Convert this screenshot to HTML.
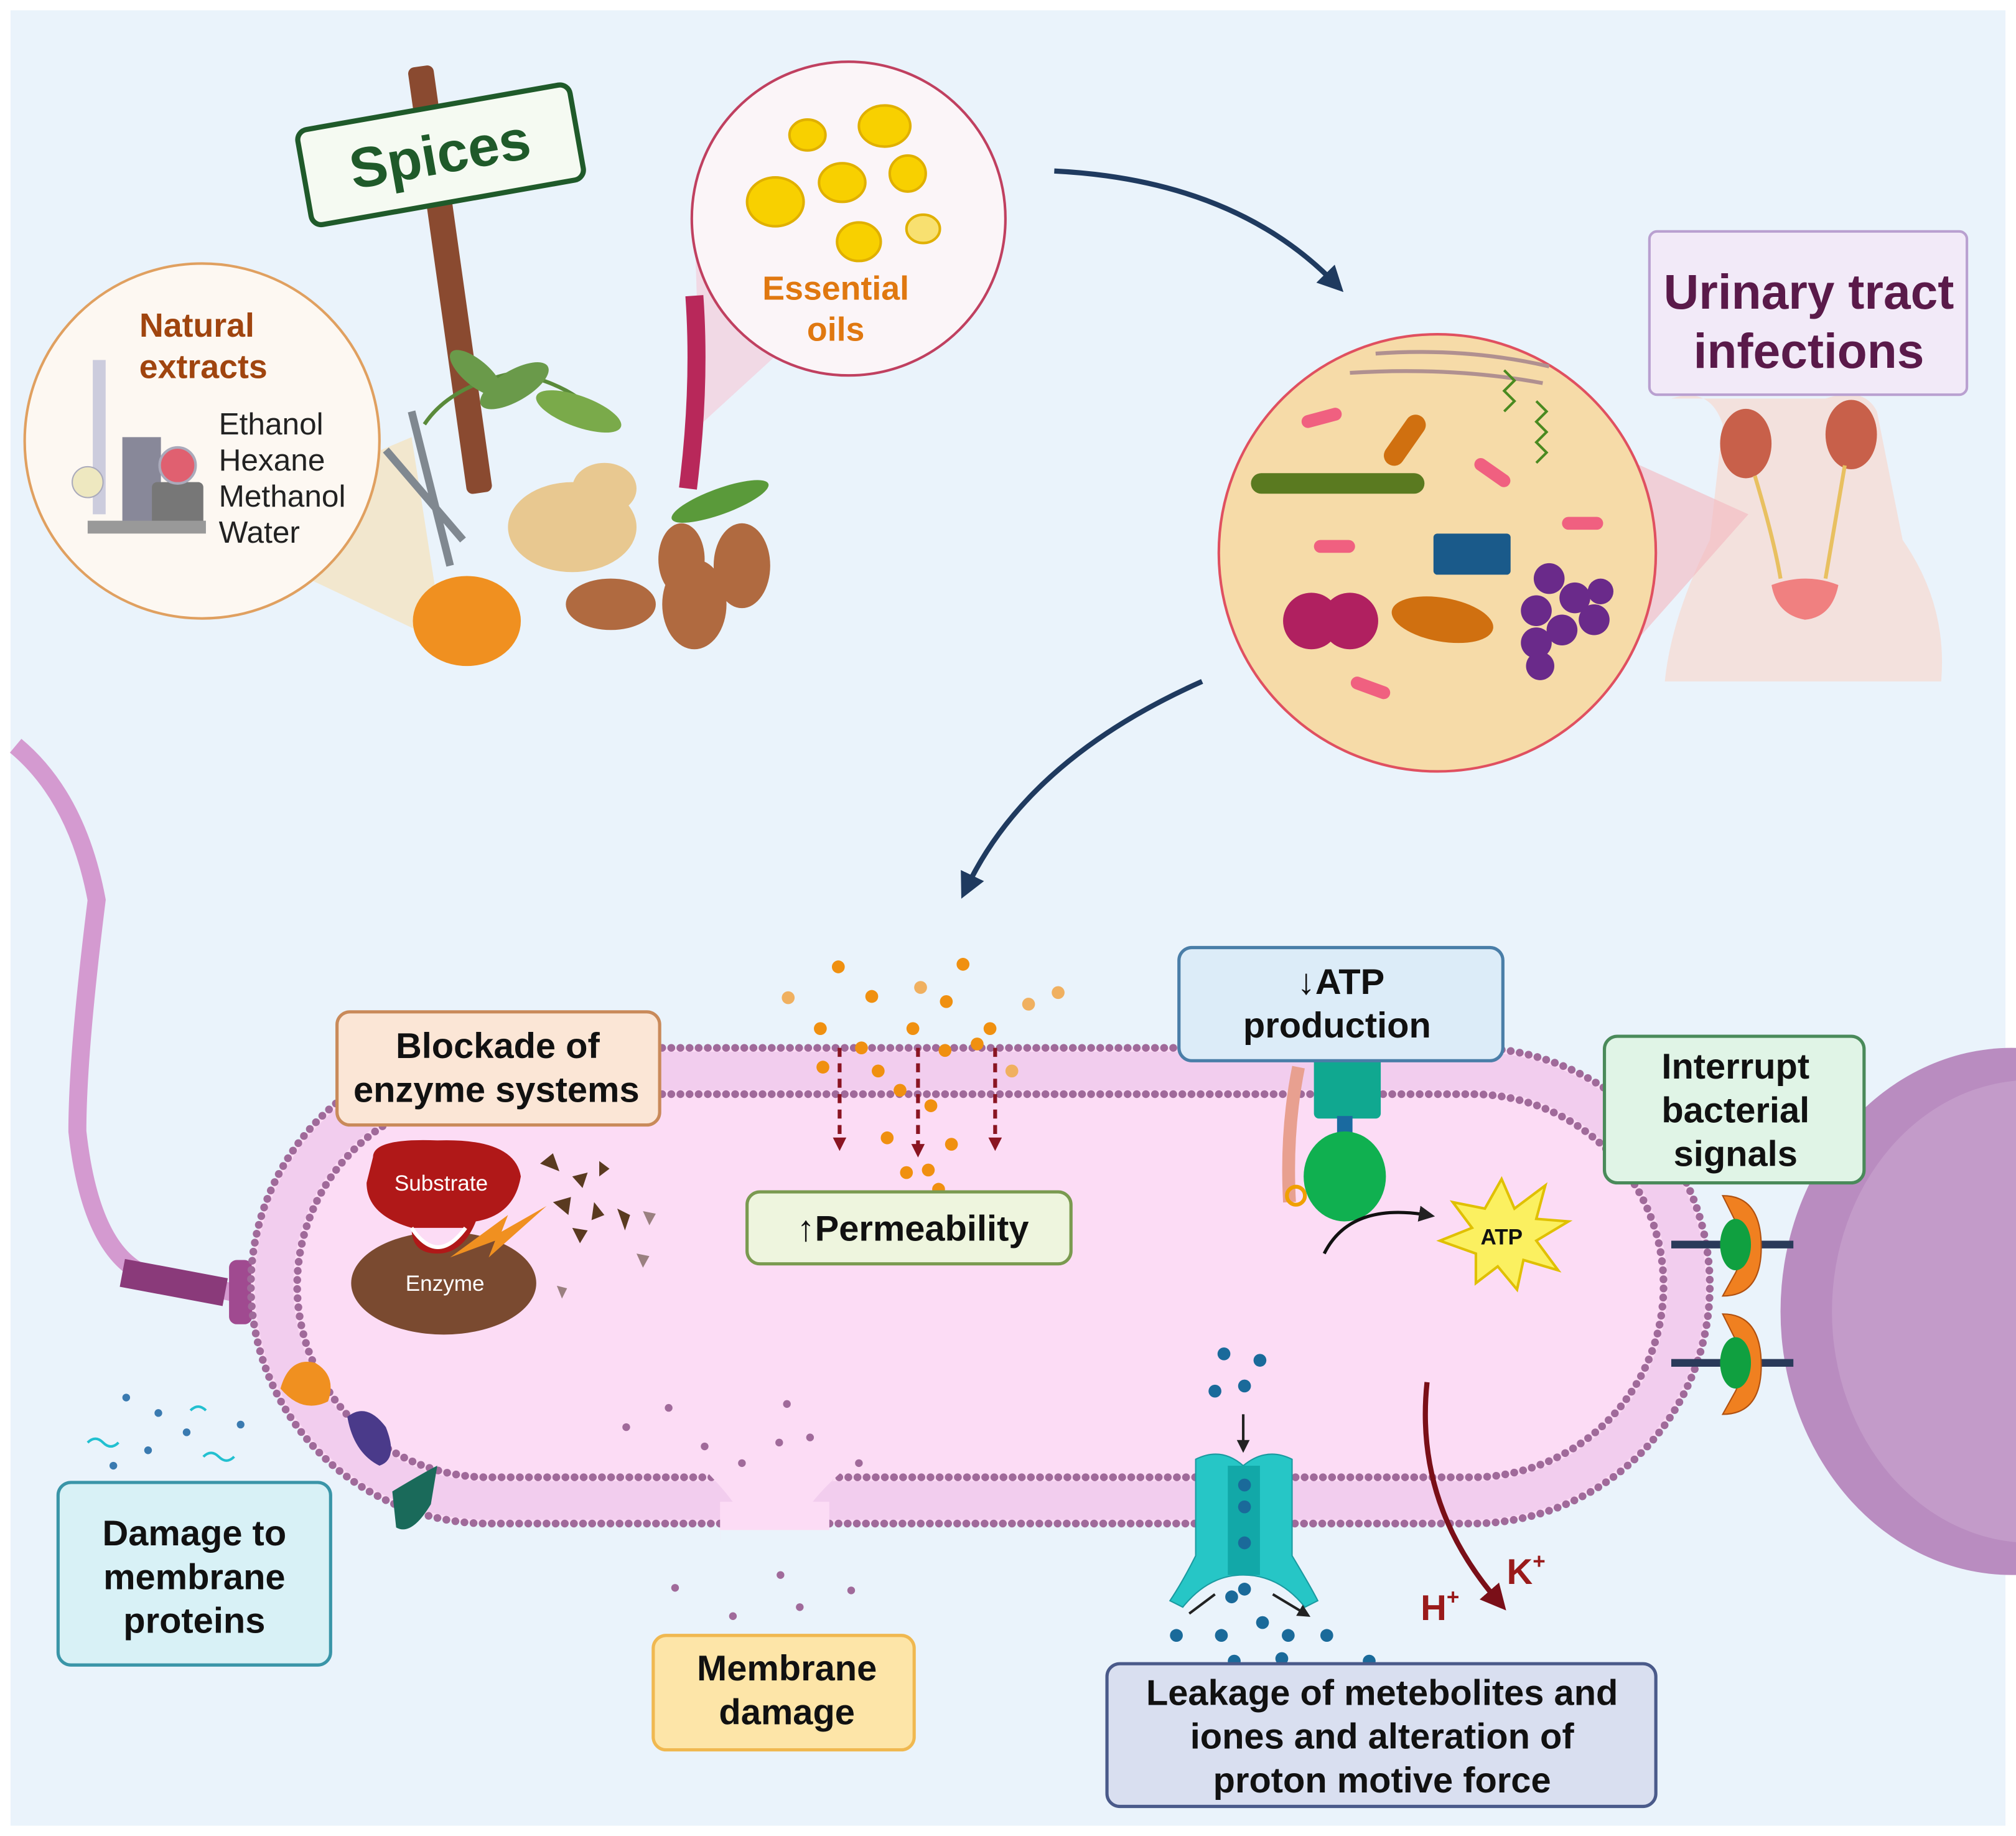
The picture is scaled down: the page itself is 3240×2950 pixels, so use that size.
<!DOCTYPE html>
<html><head><meta charset="utf-8"><style>
html,body{margin:0;padding:0;background:#fff}
svg{display:block}
text{font-family:"Liberation Sans",sans-serif}
</style></head><body>
<svg width="3240" height="2950" viewBox="0 0 1568 1428" xmlns="http://www.w3.org/2000/svg">
<defs>
<marker id="ah" viewBox="0 0 10 10" refX="5" refY="5" markerWidth="5" markerHeight="5" orient="auto"><path d="M0,0 L10,5 L0,10 z" fill="#1f3a5f"/></marker>
<marker id="ar" viewBox="0 0 10 10" refX="5" refY="5" markerWidth="5" markerHeight="5" orient="auto"><path d="M0,0 L10,5 L0,10 z" fill="#7a0f18"/></marker>
<marker id="ab" viewBox="0 0 10 10" refX="5" refY="5" markerWidth="5" markerHeight="5" orient="auto"><path d="M0,0 L10,5 L0,10 z" fill="#222"/></marker>
<marker id="ad" viewBox="0 0 10 10" refX="5" refY="5" markerWidth="3.5" markerHeight="3.5" orient="auto"><path d="M0,0 L10,5 L0,10 z" fill="#8a1522"/></marker>
</defs>
<rect x="0" y="0" width="1568" height="1428" fill="#fff"/>
<rect x="8" y="8" width="1552" height="1412" fill="#eaf3fb"/>

<path d="M1300,310 Q1330,300 1340,330 L1330,420 Q1300,480 1295,530 L1510,530 Q1515,470 1480,420 L1460,320 Q1450,300 1420,310 Z" fill="#f5dcd6" opacity="0.8"/>
<ellipse cx="1358" cy="345" rx="20" ry="27" fill="#c8604a"/>
<ellipse cx="1440" cy="338" rx="20" ry="27" fill="#c8604a"/>
<path d="M1365,370 Q1380,420 1385,450 M1435,362 Q1425,420 1420,450" stroke="#e8c060" stroke-width="3" fill="none"/>
<path d="M1378,455 Q1405,445 1430,455 Q1425,480 1404,482 Q1382,478 1378,455 Z" fill="#f08080"/>
<polygon points="1205,330 1360,400 1205,575" fill="#f4b8c0" opacity="0.6"/>

<circle cx="1118" cy="430" r="170" fill="#f6dba8" stroke="#e05060" stroke-width="2"/>
<path d="M1070,275 Q1140,270 1205,285" stroke="#b09090" stroke-width="3" fill="none"/>
<path d="M1050,290 Q1130,285 1200,298" stroke="#b09090" stroke-width="3" fill="none"/>
<rect x="973" y="368" width="135" height="16" rx="8" fill="#5a7a20"/>
<rect x="1085" y="320" width="16" height="45" rx="8" fill="#d07010" transform="rotate(35 1093 342)"/>
<rect x="1115" y="415" width="60" height="32" rx="3" fill="#1a5a8a"/>
<circle cx="1020" cy="483" r="22" fill="#b02060"/><circle cx="1050" cy="483" r="22" fill="#b02060"/>
<ellipse cx="1122" cy="482" rx="40" ry="17" fill="#d07010" transform="rotate(10 1122 482)"/>
<g fill="#6a2a8a"><circle cx="1205" cy="450" r="12"/><circle cx="1225" cy="465" r="12"/><circle cx="1195" cy="475" r="12"/><circle cx="1215" cy="490" r="12"/><circle cx="1240" cy="482" r="12"/><circle cx="1195" cy="500" r="12"/><circle cx="1198" cy="518" r="11"/><circle cx="1245" cy="460" r="10"/></g>
<g fill="#f06080"><rect x="1012" y="320" width="32" height="10" rx="5" transform="rotate(-15 1028 325)"/><rect x="1145" y="362" width="32" height="10" rx="5" transform="rotate(35 1160 367)"/><rect x="1022" y="420" width="32" height="10" rx="5"/><rect x="1215" y="402" width="32" height="10" rx="5"/><rect x="1050" y="530" width="32" height="10" rx="5" transform="rotate(20 1066 535)"/></g>
<path d="M1170,320 l8,-8 l-8,-8 l8,-8 l-8,-8 M1195,360 l8,-8 l-8,-8 l8,-8 l-8,-8 l8,-8 l-8,-8" stroke="#4a8a20" stroke-width="2" fill="none"/>

<rect x="1283" y="180" width="247" height="127" rx="6" fill="#f2eaf8" stroke="#b9a0d0" stroke-width="2"/>
<text x="1407" y="240" font-size="38" font-weight="bold" fill="#5a1a4a" text-anchor="middle">Urinary tract</text>
<text x="1407" y="286" font-size="38" font-weight="bold" fill="#5a1a4a" text-anchor="middle">infections</text>

<path d="M820,133 Q960,140 1038,220" stroke="#1f3a5f" stroke-width="4" fill="none" marker-end="url(#ah)"/>
<path d="M935,530 Q800,590 752,690" stroke="#1f3a5f" stroke-width="4" fill="none" marker-end="url(#ah)"/>

<polygon points="155,410 345,500 320,340" fill="#f6e0b0" opacity="0.6"/>
<polygon points="540,170 720,170 545,330" fill="#f8c0d0" opacity="0.5"/>
<rect x="340" y="50" width="20" height="335" rx="5" fill="#8a4a30" transform="rotate(-8 350 218)"/>
<g transform="rotate(-10 342 120)"><rect x="235" y="83" width="215" height="75" rx="8" fill="#f5faf2" stroke="#1f5a2a" stroke-width="4"/>
<text x="342" y="135" font-size="44" font-weight="bold" fill="#1f5a2a" text-anchor="middle">Spices</text></g>
<path d="M330,330 Q350,300 400,290 Q450,300 470,330" stroke="#5a8a3a" stroke-width="3" fill="none"/>
<ellipse cx="400" cy="300" rx="30" ry="12" fill="#6a9a4a" transform="rotate(-30 400 300)"/>
<ellipse cx="450" cy="320" rx="35" ry="12" fill="#7aaa4a" transform="rotate(20 450 320)"/>
<ellipse cx="370" cy="290" rx="25" ry="10" fill="#6a9a4a" transform="rotate(40 370 290)"/>
<path d="M320,320 L350,440 M300,350 L360,420" stroke="#808890" stroke-width="6" fill="none"/>
<ellipse cx="445" cy="410" rx="50" ry="35" fill="#e8c890"/>
<ellipse cx="470" cy="380" rx="25" ry="20" fill="#e8c890"/>
<path d="M540,230 Q545,300 535,380" stroke="#b8285a" stroke-width="14" fill="none"/>
<ellipse cx="560" cy="390" rx="40" ry="10" fill="#5a9a3a" transform="rotate(-20 560 390)"/>
<ellipse cx="363" cy="483" rx="42" ry="35" fill="#f09020"/>
<ellipse cx="475" cy="470" rx="35" ry="20" fill="#b06a40"/>
<ellipse cx="540" cy="470" rx="25" ry="35" fill="#b06a40"/>
<ellipse cx="577" cy="440" rx="22" ry="33" fill="#b06a40"/>
<ellipse cx="530" cy="435" rx="18" ry="28" fill="#b06a40"/>

<circle cx="157" cy="343" r="138" fill="#fdf8f2" stroke="#e0a060" stroke-width="2"/>
<text x="153" y="262" font-size="26" font-weight="bold" fill="#a0450f" text-anchor="middle">Natural</text>
<text x="158" y="294" font-size="26" font-weight="bold" fill="#a0450f" text-anchor="middle">extracts</text>
<g font-size="24" fill="#222"><text x="170" y="338">Ethanol</text><text x="170" y="366">Hexane</text><text x="170" y="394">Methanol</text><text x="170" y="422">Water</text></g>
<rect x="72" y="280" width="10" height="120" fill="#ccd"/>
<rect x="95" y="340" width="30" height="70" fill="#889"/>
<rect x="118" y="375" width="40" height="35" rx="4" fill="#777"/>
<circle cx="138" cy="362" r="14" fill="#e06070" stroke="#aab" stroke-width="2"/>
<rect x="68" y="405" width="92" height="10" fill="#999"/>
<circle cx="68" cy="375" r="12" fill="#eee8c0" stroke="#aab"/>

<circle cx="660" cy="170" r="122" fill="#fbf5f8" stroke="#c04060" stroke-width="2"/>
<g fill="#f8d000" stroke="#e0b000" stroke-width="2"><ellipse cx="628" cy="105" rx="14" ry="12"/><ellipse cx="688" cy="98" rx="20" ry="16"/><ellipse cx="655" cy="142" rx="18" ry="15"/><ellipse cx="706" cy="135" rx="14" ry="14"/><ellipse cx="603" cy="157" rx="22" ry="19"/><ellipse cx="668" cy="188" rx="17" ry="15"/><ellipse cx="718" cy="178" rx="13" ry="11" fill="#f8e070"/></g>
<text x="650" y="233" font-size="26" font-weight="bold" fill="#e07810" text-anchor="middle">Essential</text>
<text x="650" y="265" font-size="26" font-weight="bold" fill="#e07810" text-anchor="middle">oils</text>

<ellipse cx="1565" cy="1020" rx="180" ry="205" fill="#b98cc0"/>
<ellipse cx="1580" cy="1020" rx="155" ry="180" fill="#c39bc9"/>

<path d="M12,580 Q60,620 75,700 Q60,820 60,880 Q70,970 110,990 L180,1005" stroke="#d49ad0" stroke-width="14" fill="none"/>
<path d="M95,990 L175,1005" stroke="#8a3a7a" stroke-width="22" fill="none"/>
<rect x="178" y="980" width="18" height="50" rx="6" fill="#a04a90"/>

<rect x="195" y="815" width="1135" height="370" rx="185" fill="#fcdcf5"/>
<rect x="213" y="833" width="1099" height="334" rx="167" fill="none" stroke="#f2cdee" stroke-width="30"/>
<rect x="195" y="815" width="1135" height="370" rx="185" fill="none" stroke="#a06a9a" stroke-width="6" stroke-dasharray="0.1 7" stroke-linecap="round"/>
<rect x="231" y="851" width="1063" height="298" rx="149" fill="none" stroke="#a06a9a" stroke-width="6" stroke-dasharray="0.1 7" stroke-linecap="round"/>
<path d="M545,1140 Q580,1175 580,1190 L620,1190 Q625,1170 660,1140 Z" fill="#fcdcf5"/>
<rect x="560" y="1168" width="85" height="30" fill="#fcdcf5"/>
<path d="M560,1190 L650,1190 L650,1210 L560,1210Z" fill="#eaf3fb"/>
<g fill="#a06a9a"><circle cx="487" cy="1110" r="3"/><circle cx="520" cy="1095" r="3"/><circle cx="548" cy="1125" r="3"/><circle cx="577" cy="1138" r="3"/><circle cx="612" cy="1092" r="3"/><circle cx="606" cy="1122" r="3"/><circle cx="630" cy="1118" r="3"/><circle cx="668" cy="1138" r="3"/><circle cx="525" cy="1235" r="3"/><circle cx="570" cy="1257" r="3"/><circle cx="607" cy="1225" r="3"/><circle cx="622" cy="1250" r="3"/><circle cx="662" cy="1237" r="3"/></g>

<g fill="#f09010"><circle cx="652" cy="752" r="5"/><circle cx="749" cy="750" r="5"/><circle cx="678" cy="775" r="5"/><circle cx="736" cy="779" r="5"/><circle cx="710" cy="800" r="5"/><circle cx="638" cy="800" r="5"/><circle cx="770" cy="800" r="5"/><circle cx="735" cy="817" r="5"/><circle cx="640" cy="830" r="5"/><circle cx="683" cy="833" r="5"/><circle cx="700" cy="848" r="5"/><circle cx="724" cy="860" r="5"/><circle cx="690" cy="885" r="5"/><circle cx="740" cy="890" r="5"/><circle cx="705" cy="912" r="5"/><circle cx="722" cy="910" r="5"/><circle cx="730" cy="925" r="5"/><circle cx="670" cy="815" r="5"/><circle cx="760" cy="812" r="5"/></g>
<g fill="#f0b060"><circle cx="613" cy="776" r="5"/><circle cx="716" cy="768" r="5"/><circle cx="800" cy="781" r="5"/><circle cx="823" cy="772" r="5"/><circle cx="787" cy="833" r="5"/></g>
<g stroke="#8a1522" stroke-width="3" stroke-dasharray="7 5"><line x1="653" y1="815" x2="653" y2="890" marker-end="url(#ad)"/><line x1="714" y1="815" x2="714" y2="895" marker-end="url(#ad)"/><line x1="774" y1="815" x2="774" y2="890" marker-end="url(#ad)"/></g>

<ellipse cx="345" cy="998" rx="72" ry="40" fill="#7a4a30"/>
<path d="M290,900 Q290,885 340,887 Q400,885 405,915 Q400,945 370,950 Q360,975 340,975 Q320,975 320,955 Q285,945 285,920 Z" fill="#b01818"/>
<path d="M320,955 Q340,985 362,955" fill="#fcdcf5" stroke="#fff" stroke-width="3"/>
<polygon points="350,978 395,945 390,958 425,938 380,978 385,965" fill="#f09020"/>
<text x="343" y="926" font-size="17" fill="#fff" text-anchor="middle">Substrate</text>
<text x="346" y="1004" font-size="17" fill="#fff" text-anchor="middle">Enzyme</text>
<g fill="#5a3a20"><path d="M420,905 l10,-8 l5,14z"/><path d="M445,915 l12,-3 l-4,12z"/><path d="M430,935 l14,-4 l-2,14z"/><path d="M462,935 l8,10 l-10,4z"/><path d="M480,940 l10,5 l-4,12z"/><path d="M445,955 l12,2 l-6,10z"/><path d="M466,903 l8,6 l-8,6z"/></g>
<g fill="#9a8080"><path d="M500,942 l10,2 l-5,9z"/><path d="M495,975 l10,2 l-5,9z"/><path d="M433,1000 l8,2 l-4,8z"/></g>

<path d="M1010,830 Q1000,880 1003,935" stroke="#e8a090" stroke-width="10" fill="none"/>
<circle cx="1008" cy="930" r="7" fill="none" stroke="#f0a000" stroke-width="3"/>
<rect x="1022" y="812" width="52" height="58" rx="4" fill="#10a890"/>
<rect x="1040" y="868" width="12" height="42" fill="#1a6aa0"/>
<ellipse cx="1046" cy="915" rx="32" ry="35" fill="#10b050"/>
<path d="M1030,975 Q1050,935 1110,945" stroke="#111" stroke-width="2.5" fill="none" marker-end="url(#ab)"/>
<polygon points="1168,917 1178,940 1202,922 1195,948 1220,950 1195,965 1212,988 1185,980 1180,1003 1165,985 1148,998 1148,975 1120,965 1145,955 1130,935 1155,940" fill="#fbf060" stroke="#e0c000" stroke-width="2"/>
<text x="1168" y="968" font-size="17" font-weight="bold" fill="#111" text-anchor="middle">ATP</text>

<g><line x1="1300" y1="968" x2="1395" y2="968" stroke="#2a3a5a" stroke-width="6"/><path d="M1340,930 Q1370,930 1370,970 Q1370,1008 1340,1008 L1350,990 Q1360,970 1350,950 Z" fill="#f08020" stroke="#b05010"/><ellipse cx="1350" cy="968" rx="12" ry="20" fill="#10a040"/></g>
<g><line x1="1300" y1="1060" x2="1395" y2="1060" stroke="#2a3a5a" stroke-width="6"/><path d="M1340,1022 Q1370,1022 1370,1062 Q1370,1100 1340,1100 L1350,1082 Q1360,1062 1350,1042 Z" fill="#f08020" stroke="#b05010"/><ellipse cx="1350" cy="1060" rx="12" ry="20" fill="#10a040"/></g>

<g fill="#1a6a9a"><circle cx="952" cy="1053" r="5"/><circle cx="980" cy="1058" r="5"/><circle cx="945" cy="1082" r="5"/><circle cx="968" cy="1078" r="5"/></g>
<line x1="967" y1="1100" x2="967" y2="1125" stroke="#222" stroke-width="2" marker-end="url(#ab)"/>
<path d="M930,1135 Q950,1125 967,1140 Q985,1125 1005,1135 L1005,1210 Q1020,1235 1025,1245 L1015,1250 Q995,1225 967,1225 Q940,1225 920,1250 L910,1245 Q920,1230 930,1210 Z" fill="#26c6c6" stroke="#1a9aa0"/>
<rect x="955" y="1140" width="25" height="85" fill="#12a8a8"/>
<g fill="#1a6a9a"><circle cx="968" cy="1155" r="5"/><circle cx="968" cy="1172" r="5"/><circle cx="968" cy="1200" r="5"/><circle cx="958" cy="1242" r="5"/><circle cx="968" cy="1236" r="5"/><circle cx="915" cy="1272" r="5"/><circle cx="950" cy="1272" r="5"/><circle cx="982" cy="1262" r="5"/><circle cx="1002" cy="1272" r="5"/><circle cx="1032" cy="1272" r="5"/><circle cx="960" cy="1292" r="5"/><circle cx="997" cy="1290" r="5"/><circle cx="1065" cy="1292" r="5"/></g>
<path d="M945,1240 L925,1255 M990,1240 L1015,1255" stroke="#222" stroke-width="2" marker-end="url(#ab)"/>

<path d="M1110,1075 Q1100,1170 1165,1245" stroke="#7a0f18" stroke-width="4" fill="none" marker-end="url(#ar)"/>
<text x="1105" y="1260" font-size="28" font-weight="bold" fill="#9a1a1a">H<tspan font-size="17" dy="-12">+</tspan></text>
<text x="1172" y="1232" font-size="28" font-weight="bold" fill="#9a1a1a">K<tspan font-size="17" dy="-12">+</tspan></text>

<path d="M218,1080 Q225,1055 245,1060 Q262,1070 255,1090 Q235,1100 218,1080 Z" fill="#f09020"/>
<path d="M270,1102 Q285,1090 300,1110 Q310,1135 295,1140 Q275,1130 270,1102 Z" fill="#4a3a8a"/>
<path d="M305,1160 Q330,1145 340,1140 L335,1170 Q320,1195 308,1188 Z" fill="#1a6a5a"/>
<g fill="#3a7ab0"><circle cx="98" cy="1087" r="3"/><circle cx="123" cy="1099" r="3"/><circle cx="115" cy="1128" r="3"/><circle cx="88" cy="1140" r="3"/><circle cx="187" cy="1108" r="3"/><circle cx="145" cy="1114" r="3"/></g>
<path d="M68,1122 q6,-6 12,0 t12,0 M148,1097 q6,-6 12,0 M158,1133 q6,-6 12,0 t12,0" stroke="#22c0d0" stroke-width="2" fill="none"/>

<g font-weight="bold" fill="#111" text-anchor="middle">
<rect x="262" y="787" width="251" height="88" rx="10" fill="#fbe6d6" stroke="#c98a5a" stroke-width="2.5"/>
<text x="387" y="823" font-size="28">Blockade of</text><text x="386" y="857" font-size="28">enzyme systems</text>
<rect x="581" y="927" width="252" height="56" rx="10" fill="#eef5de" stroke="#7a9a50" stroke-width="2.5"/>
<text x="710" y="965" font-size="28">↑Permeability</text>
<rect x="917" y="737" width="252" height="88" rx="10" fill="#dcecf8" stroke="#4a7ea8" stroke-width="2.5"/>
<text x="1043" y="773" font-size="28">↓ATP</text><text x="1040" y="807" font-size="28">production</text>
<rect x="1248" y="806" width="202" height="114" rx="10" fill="#e0f4e6" stroke="#4a8a5a" stroke-width="2.5"/>
<text x="1350" y="839" font-size="28">Interrupt</text><text x="1350" y="873" font-size="28">bacterial</text><text x="1350" y="907" font-size="28">signals</text>
<rect x="45" y="1153" width="212" height="142" rx="10" fill="#d8f1f6" stroke="#3a95a8" stroke-width="2.5"/>
<text x="151" y="1202" font-size="28">Damage to</text><text x="151" y="1236" font-size="28">membrane</text><text x="151" y="1270" font-size="28">proteins</text>
<rect x="508" y="1272" width="203" height="89" rx="10" fill="#fde5a8" stroke="#f0b850" stroke-width="2.5"/>
<text x="612" y="1307" font-size="28">Membrane</text><text x="612" y="1341" font-size="28">damage</text>
<rect x="861" y="1294" width="427" height="111" rx="10" fill="#d9dff0" stroke="#4a5a8a" stroke-width="2.5"/>
<text x="1075" y="1326" font-size="28">Leakage of metebolites and</text><text x="1075" y="1360" font-size="28">iones and alteration of</text><text x="1075" y="1394" font-size="28">proton motive force</text>
</g>
</svg>
</body></html>
